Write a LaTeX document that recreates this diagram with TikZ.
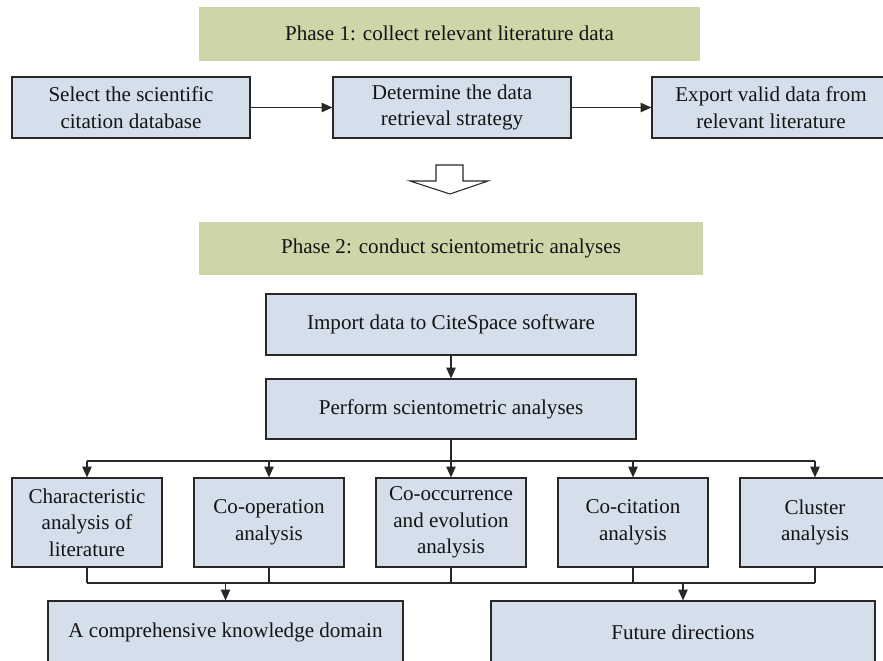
\documentclass[tikz,border=0pt]{standalone}
\usepackage{fontspec}
\setmainfont{Liberation Serif}
\usetikzlibrary{arrows.meta}
\definecolor{phasegreen}{RGB}{205,214,168}
\definecolor{boxblue}{RGB}{213,223,236}
\definecolor{edgegray}{RGB}{40,40,40}
\definecolor{textgray}{RGB}{20,20,20}
\begin{document}
\begin{tikzpicture}[x=0.75pt,y=-0.75pt,
	every node/.style={font=\fontsize{15.8}{20}\selectfont,text=textgray,align=center,inner sep=0pt},
	phase/.style={fill=phasegreen,minimum width=375.75pt,minimum height=40.5pt},
	stepbox/.style={draw=edgegray,line width=0.9pt,fill=boxblue},
	topbox/.style={stepbox,minimum width=178.5pt,minimum height=45.75pt},
	widebox/.style={stepbox,minimum width=277.5pt,minimum height=45pt},
	smallbox/.style={stepbox,minimum width=112.5pt,minimum height=66.75pt},
	link/.style={draw=edgegray,line width=0.8pt,-{Triangle[length=8pt,width=7pt]}},
	wire/.style={draw=edgegray,line width=0.8pt}]
					\useasboundingbox (0,0) rectangle (883,661);
					\clip (0,0) rectangle (883,661);
					\node[phase] (phaseA) at (449.5,33.5) {Phase 1: collect relevant literature data};
					\node[topbox] (sel) at (131,107.5) {Select the scientific\\citation database};
					\node[topbox] (det) at (452,107.5) {Determine the data\\retrieval strategy};
					\node[topbox] (exp) at (771,107.5) {Export valid data from\\relevant literature};
					\draw[link] (sel) -- (det);
					\draw[link] (det) -- (exp);
					\draw[wire,fill=white] (436,165) -- (463,165) -- (463,181) -- (488,181) -- (450,194) -- (410,181) -- (436,181) -- cycle;
					\node[phase,minimum width=378pt,minimum height=39.75pt] (phaseB) at (451,248) {Phase 2: conduct scientometric analyses};
					\node[widebox,minimum height=45.75pt] (imp) at (451,324.5) {Import data to CiteSpace software};
					\node[widebox] (per) at (451,409) {Perform scientometric analyses};
					\draw[link] (imp) -- (per);
					\node[smallbox] (chr) at (87,522.5) {Characteristic\\analysis of\\literature};
					\node[smallbox] (coop) at (269,522.5) {Co-operation\\analysis};
					\node[smallbox] (cooc) at (451,522.5) {Co-occurrence\\and evolution\\analysis};
					\node[smallbox] (ccit) at (633,522.5) {Co-citation\\analysis};
					\node[smallbox] (clu) at (815,522.5) {Cluster\\analysis};
					\node[stepbox,minimum width=266.25pt,minimum height=46.5pt] (know) at (225.5,632) {A comprehensive knowledge domain};
					\node[stepbox,minimum width=288pt,minimum height=46.5pt] (fut) at (683,632) {Future directions};
					\coordinate (split) at (451,461);
					\coordinate (join) at (451,583);
					\draw[wire,line width=1.3pt] (per.south) -- (split);
					\draw[wire] (chr.north |- split) -- (clu.north |- split);
					\draw[wire] (chr.south |- join) -- (clu.south |- join);
					\foreach \b in {chr,coop,cooc,ccit,clu} {
						\draw[link] (\b.north |- split) -- (\b.north);
						\draw[wire] (\b.south) -- (\b.south |- join);
					}
					\draw[link] (know.north |- join) -- (know.north);
					\draw[link] (fut.north |- join) -- (fut.north);
				\end{tikzpicture}
\end{document}
